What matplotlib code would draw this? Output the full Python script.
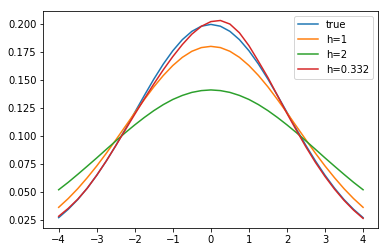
import matplotlib
matplotlib.use('Agg')
import matplotlib.pyplot as plt
import numpy as np

# x grid (step 0.25) and curve values
x = np.arange(-4, 4.01, 0.25)

true_vals = [0.0270, 0.0344, 0.0431, 0.0533, 0.0648, 0.0775, 0.0913, 0.1059,
             0.1210, 0.1360, 0.1506, 0.1641, 0.1760, 0.1859, 0.1933, 0.1979,
             0.1995,
             0.1979, 0.1933, 0.1859, 0.1760, 0.1641, 0.1506, 0.1360, 0.1210,
             0.1059, 0.0913, 0.0775, 0.0648, 0.0533, 0.0431, 0.0344, 0.0270]

h1_vals = [0.0362, 0.0440, 0.0528, 0.0626, 0.0731, 0.0844, 0.0963, 0.1084,
           0.1206, 0.1324, 0.1437, 0.1539, 0.1628, 0.1701, 0.1755, 0.1788,
           0.1799,
           0.1788, 0.1755, 0.1701, 0.1628, 0.1539, 0.1437, 0.1324, 0.1206,
           0.1084, 0.0963, 0.0844, 0.0731, 0.0626, 0.0528, 0.0440, 0.0362]

h2_vals = [0.0519, 0.0585, 0.0656, 0.0729, 0.0803, 0.0879, 0.0954, 0.1028,
           0.1098, 0.1164, 0.1225, 0.1279, 0.1325, 0.1361, 0.1388, 0.1404,
           0.1410,
           0.1404, 0.1388, 0.1361, 0.1325, 0.1279, 0.1225, 0.1164, 0.1098,
           0.1028, 0.0954, 0.0879, 0.0803, 0.0729, 0.0656, 0.0585, 0.0519]

h0332_vals = [0.0282, 0.0352, 0.0434, 0.0532, 0.0648, 0.0775, 0.0912, 0.1053,
              0.1193, 0.1330, 0.1463, 0.1590, 0.1708, 0.1815, 0.1908, 0.1978,
              0.2020,
              0.2030, 0.1998, 0.1920, 0.1805, 0.1665, 0.1520, 0.1360, 0.1200,
              0.1048, 0.0900, 0.0762, 0.0637, 0.0524, 0.0424, 0.0337, 0.0263]

labels = ['true', 'h=1', 'h=2', 'h=0.332']

fig = plt.figure(figsize=(388 / 72, 252 / 72), dpi=72)
ax = fig.add_axes([0.112, 0.094, 0.863, 0.864])

for vals, lab in zip([true_vals, h1_vals, h2_vals, h0332_vals], labels):
    ax.plot(x, vals, label=lab)

ax.set_xticks([-4, -3, -2, -1, 0, 1, 2, 3, 4])
ax.set_yticks([0.025, 0.050, 0.075, 0.100, 0.125, 0.150, 0.175, 0.200])
ax.legend(loc='upper right')

fig.savefig('out.png', dpi=72)
